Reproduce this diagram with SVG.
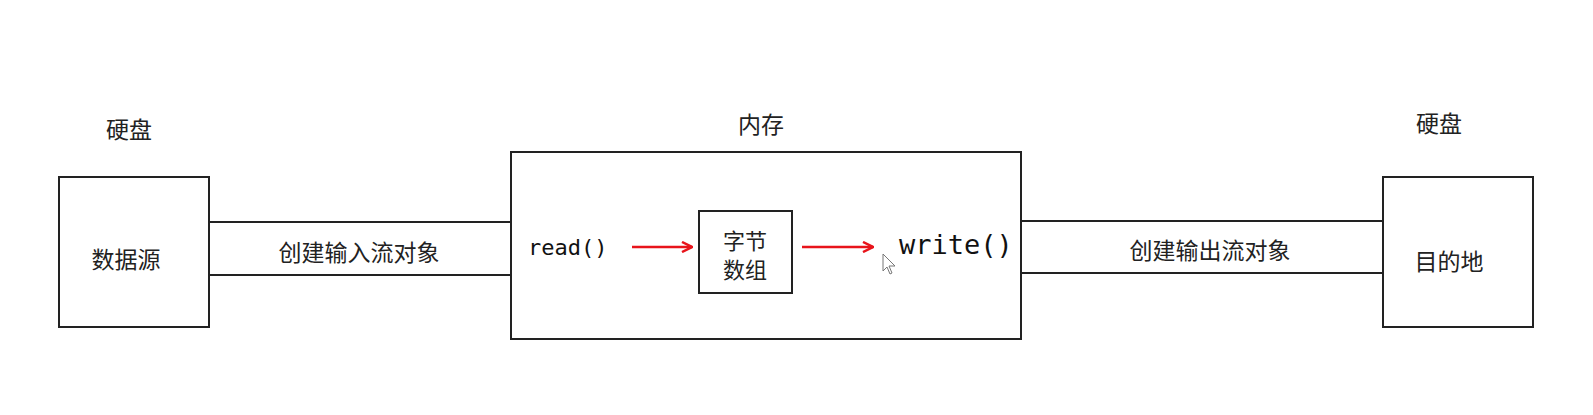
<svg xmlns="http://www.w3.org/2000/svg" width="1593" height="415" viewBox="0 0 1593 415">
<defs>
<style>
.box{fill:#fff;stroke:#222;stroke-width:2}
.frame{fill:none;stroke:#222;stroke-width:2}
.ln{stroke:#222;stroke-width:2;fill:none}
.red{stroke:#e8141b;stroke-width:2.5;fill:none}
.cjk{font-family:"Noto Sans CJK SC","Noto Sans",sans-serif;font-size:23px;fill:#222;text-anchor:middle;dominant-baseline:central}
.sm{font-size:22px}
.mono{font-family:"DejaVu Sans Mono","Liberation Mono",monospace;fill:#111}
</style>
<marker id="ah" viewBox="0 0 12 12" refX="11" refY="6" markerWidth="12" markerHeight="12" markerUnits="userSpaceOnUse" orient="auto">
<path d="M1,1 L11,6 L1,11" fill="none" stroke="#e8141b" stroke-width="2.5"/>
</marker>
</defs>
<rect width="1593" height="415" fill="#fff"/>
<g id="source">
<text class="cjk" x="129" y="128">硬盘</text>
<rect class="box" x="59" y="177" width="150" height="150"/>
<text class="cjk" x="126" y="258">数据源</text>
</g>
<g id="memory">
<text class="cjk" x="761" y="123">内存</text>
<rect class="frame" x="511" y="152" width="510" height="187"/>
<text class="mono" x="528" y="255" font-size="22">read()</text>
<text class="mono" x="899" y="254" font-size="27">write()</text>
</g>
<g id="bytearray">
<rect class="box" x="699" y="211" width="93" height="82"/>
<text class="cjk sm" x="745" y="239">字节</text>
<text class="cjk sm" x="745" y="268">数组</text>
</g>
<g id="dest">
<text class="cjk" x="1439" y="122">硬盘</text>
<rect class="box" x="1383" y="177" width="150" height="150"/>
<text class="cjk" x="1449" y="260">目的地</text>
</g>
<g id="connectors">
<line class="ln" x1="209" y1="222" x2="511" y2="222"/>
<line class="ln" x1="209" y1="275" x2="511" y2="275"/>
<line class="ln" x1="1021" y1="221" x2="1383" y2="221"/>
<line class="ln" x1="1021" y1="273" x2="1383" y2="273"/>
<text class="cjk" x="359" y="251">创建输入流对象</text>
<text class="cjk" x="1210" y="249">创建输出流对象</text>
<line class="red" x1="632" y1="247" x2="692" y2="247" marker-end="url(#ah)"/>
<line class="red" x1="802" y1="247" x2="873" y2="247" marker-end="url(#ah)"/>
</g>
<g id="cursor">
<path d="M883,254 L883,271 L887,267 L890,274 L892,273 L889,266 L895,266 Z" fill="#fff" stroke="#777" stroke-width="1"/>
</g>
</svg>
